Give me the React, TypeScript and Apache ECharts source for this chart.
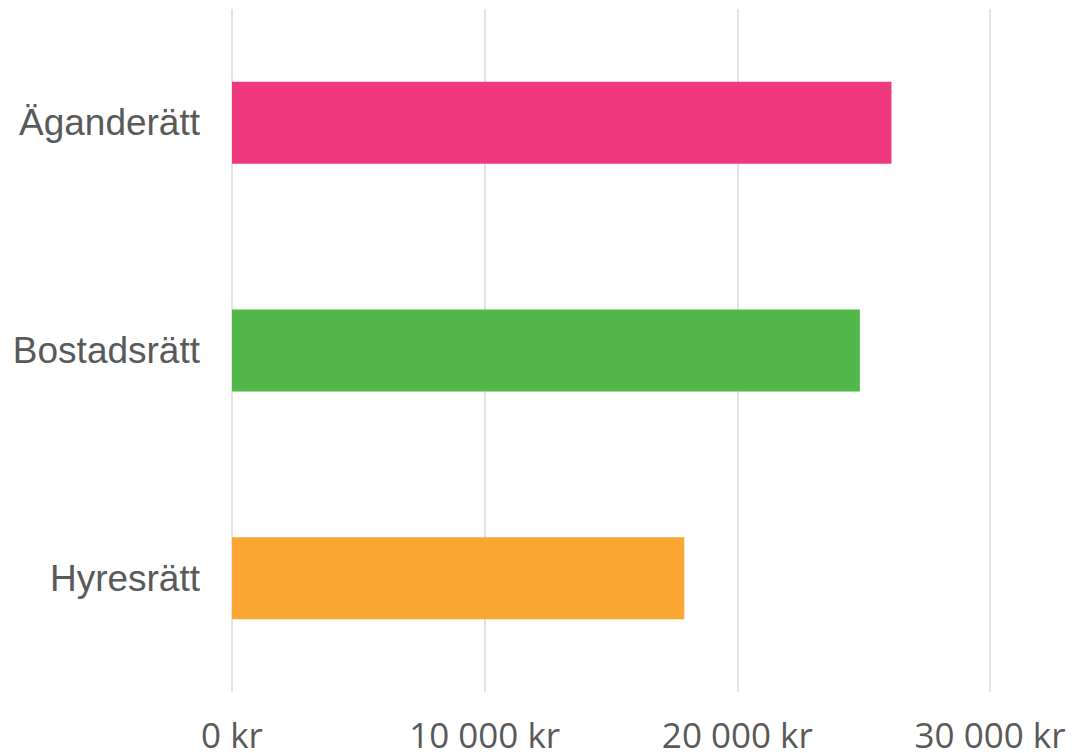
import React, { useEffect, useRef } from "react";
import * as echarts from "echarts";

const categories = ["Äganderätt", "Bostadsrätt", "Hyresrätt"];
const values = [26100, 24850, 17900];
const barColors = ["#F0387F", "#52B84A", "#F9A633"];
const xTicks = [0, 10000, 20000, 30000];

function fmt(v: number): string {
  const s = String(Math.round(v));
  return s.replace(/\B(?=(\d{3})+(?!\d))/g, " ") + " kr";
}

export default function App() {
  const ref = useRef<HTMLDivElement>(null);
  useEffect(() => {
    if (!ref.current) return;
    const chart = echarts.init(ref.current, undefined, { renderer: "svg" });
    chart.setOption({
      animation: false,
      backgroundColor: "#ffffff",
      grid: { left: 232, right: 84, top: 9, bottom: 61, containLabel: false },
      xAxis: {
        type: "value",
        min: xTicks[0],
        max: xTicks[xTicks.length - 1],
        interval: 10000,
        axisLine: { show: false },
        axisTick: { show: false },
        splitLine: { show: true, lineStyle: { color: "#D9D9D9", width: 1.5 } },
        axisLabel: {
          formatter: (v: number) => fmt(v),
          color: "#595959",
          fontFamily: "Open Sans",
          fontSize: 35,
          lineHeight: 30,
          margin: 27,
        },
      },
      yAxis: {
        type: "category",
        data: categories,
        inverse: true,
        axisLine: { show: false },
        axisTick: { show: false },
        splitLine: { show: false },
        axisLabel: {
          color: "#595959",
          fontFamily: "Liberation Sans",
          fontSize: 37,
          margin: 32,
        },
      },
      series: [
        {
          type: "bar",
          data: values.map((v, i) => ({ value: v, itemStyle: { color: barColors[i] } })),
          barWidth: 82,
        },
      ],
    });
    return () => chart.dispose();
  }, []);
  return (
    <div
      ref={ref}
      style={{ position: "fixed", left: 0, top: 0, width: 1074, height: 753 }}
    />
  );
}
